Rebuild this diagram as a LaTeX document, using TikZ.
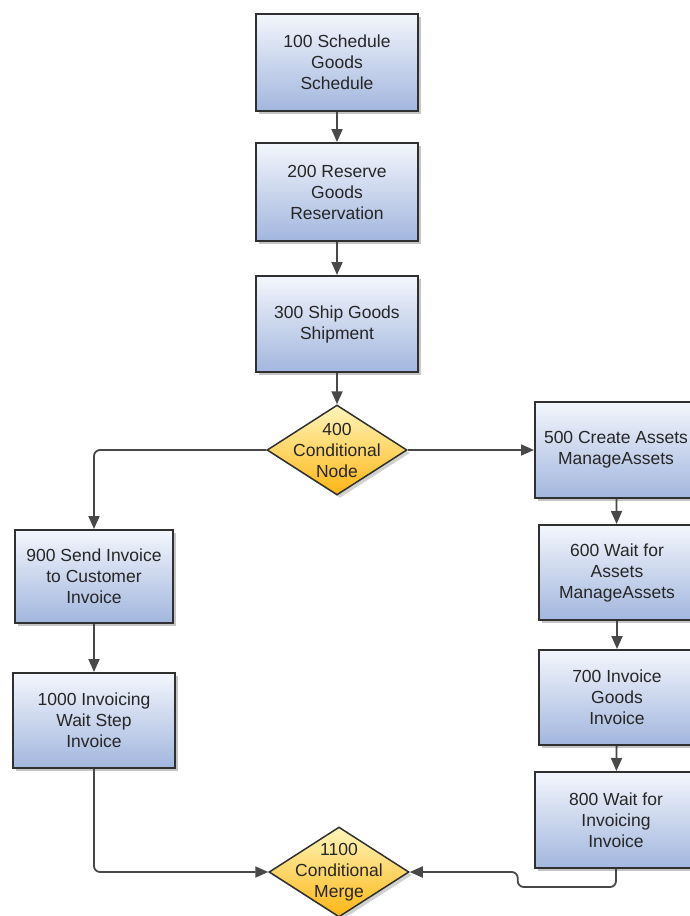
\documentclass[tikz,border=0pt]{standalone}
\usepackage{fontspec}
\setmainfont{Liberation Sans}
\usepackage{xcolor}
\usetikzlibrary{positioning, shapes.geometric, shadows, arrows.meta}

\definecolor{boxtop}{HTML}{F3F6FC}
\definecolor{boxbot}{HTML}{A2B6DE}
\definecolor{condtop}{HTML}{FFF6BC}
\definecolor{condbot}{HTML}{FDB614}
\definecolor{edgegray}{HTML}{303030}
\definecolor{flowgray}{HTML}{484848}
\newcommand{\stepfont}{\fontsize{17.5}{21}\selectfont}

\tikzset{
    stepbox/.style={draw=edgegray, line width=2pt, top color=boxtop, bottom color=boxbot,
        minimum width=162pt, minimum height=97pt, align=center, text=black!85, font=\stepfont,
        drop shadow={shadow xshift=3pt, shadow yshift=-3pt, fill=black!45, opacity=0.5}},
    cond/.style={diamond, draw=edgegray, line width=1.5pt, top color=condtop, bottom color=condbot,
        minimum width=140pt, minimum height=90pt, inner sep=0pt,
        drop shadow={shadow xshift=3pt, shadow yshift=-3pt, fill=black!45, opacity=0.4}},
    condtext/.style={align=center, text=black!85, font=\stepfont},
    flow/.style={draw=flowgray, line width=1.8pt, rounded corners=6pt,
        -{Triangle[length=13pt, width=11pt]}}
}

\begin{document}
\begin{tikzpicture}[x=1pt, y=1pt]
    \useasboundingbox (0,0) rectangle (689,-916);

    % main column
    \node[stepbox] (n100) at (337,-62.5) {100 Schedule\\Goods\\Schedule};
    \node[stepbox, minimum height=98pt] (n200) at (337,-192) {200 Reserve\\Goods\\Reservation};
    \node[stepbox, minimum height=96pt] (n300) at (337,-324) {300 Ship Goods\\Shipment};
    \node[cond, label={[condtext]center:{400\\Conditional\\Node}}] (n400) at (337,-450) {};

    % asset branch on the right
    \node[stepbox, minimum height=96pt] (n500) at (616,-450) {500 Create Assets\\ManageAssets};
    \node[stepbox, minimum width=157pt, minimum height=95pt] (n600) at (617,-572.5) {600 Wait for\\Assets\\ManageAssets};
    \node[stepbox, minimum width=157pt, minimum height=95pt] (n700) at (617,-697.5) {700 Invoice\\Goods\\Invoice};
    \node[stepbox, minimum height=96pt] (n800) at (616,-820) {800 Wait for\\Invoicing\\Invoice};

    % invoice branch on the left
    \node[stepbox, minimum width=158pt, minimum height=93pt] (n900) at (94,-576.5) {900 Send Invoice\\to Customer\\Invoice};
    \node[stepbox, minimum height=95pt] (n1000) at (94,-720.5) {1000 Invoicing\\Wait Step\\Invoice};

    % merge
    \node[cond, label={[condtext]center:{1100\\Conditional\\Merge}}] (n1100) at (339,-872) {};

    % connectors
    \draw[flow] (n100) -- (n200);
    \draw[flow] (n200) -- (n300);
    \draw[flow] (n300) -- (n400);
    \draw[flow] (n400) -- (n500);
    \draw[flow] (n500) -- (n600);
    \draw[flow] (n600) -- (n700);
    \draw[flow] (n700) -- (n800);
    \draw[flow] (n400.west) -| (n900.north);
    \draw[flow] (n900) -- (n1000);
    \draw[flow] (n1000.south) |- (n1100.west);
    \draw[flow] (n800.south) -- ++(0,-18) -| ([xshift=108pt]n1100.east) -- (n1100.east);
\end{tikzpicture}
\end{document}
